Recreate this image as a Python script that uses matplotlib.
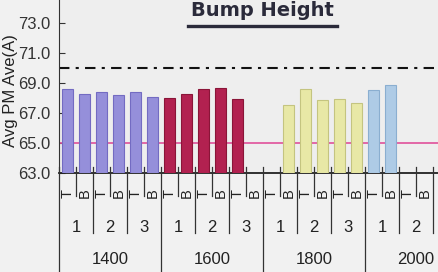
import matplotlib
matplotlib.use("Agg")
import matplotlib.pyplot as plt
from matplotlib.lines import Line2D
import numpy as np

groups = ['1400', '1600', '1800', '2000']
subgroups = ['1', '2', '3']
sides = ['T', 'B']
vals_1400 = [68.6, 68.27, 68.4, 68.18, 68.38, 68.1]
vals_1600 = [67.98, 68.27, 68.58, 68.67, 67.93, None]
vals_1800 = [None, 67.53, 68.58, 67.85, 67.93, 67.65]
vals_2000 = [68.56, 68.84, None, None, None, None]
group_values = [vals_1400, vals_1600, vals_1800, vals_2000]
group_colors = ['#958fda', '#b22150', '#e8e8a6', '#aecbe6']
edge_colors = ['#736bc2', '#8a1538', '#c4c480', '#8aaed0']
upper_limit = 70.0
lower_limit = 65.0
yticks = [63.0, 65.0, 67.0, 69.0, 71.0, 73.0]

W, H = 438, 272
fig = plt.figure(figsize=(W / 100, H / 100), dpi=100, facecolor='#f1f1f1')
ax_left, ax_bottom_px = 59, 173
ax_w_px = W - ax_left
ax = fig.add_axes([ax_left / W, (H - ax_bottom_px) / H, ax_w_px / W, ax_bottom_px / H])
ax.set_facecolor('#eeeeee')

n_slots = len(groups) * len(subgroups) * len(sides)
slot_px = 17.0
xmax = ax_w_px / slot_px
ax.set_xlim(0, xmax)
ax.set_ylim(63.0, 63.0 + ax_bottom_px / 15.0)

font = 'Liberation Sans'
for gi, vals in enumerate(group_values):
    for k, v in enumerate(vals):
        if v is None:
            continue
        x = gi * 6 + k + 0.5
        ax.bar(x, v - 63.0, bottom=63.0, width=0.6, color=group_colors[gi],
               edgecolor=edge_colors[gi], linewidth=0.8, zorder=3)

ax.axhline(upper_limit, color='#111111', lw=1.5, ls=(0, (5, 3, 1.5, 3)), zorder=2)
ax.axhline(lower_limit, color='#e0509a', lw=1.2, zorder=2)

for s in ['top', 'right']:
    ax.spines[s].set_visible(False)
ax.spines['left'].set_color('#333333')
ax.spines['bottom'].set_color('#222222')
ax.spines['bottom'].set_linewidth(1.3)
ax.set_yticks(yticks)
ax.set_yticklabels([f'{t:.1f}' for t in yticks], fontsize=12, fontfamily=font, color='#333333')
ax.tick_params(axis='y', direction='in', length=4, color='#333333', pad=6)
ax.set_xticks([])
ax.set_ylabel('Avg PM Ave(A)', fontsize=12, fontfamily=font, color='#222222')
ax.yaxis.set_label_coords(-(ax_left - 18) / ax_w_px, (ax_bottom_px - 91) / ax_bottom_px)

trans = ax.get_xaxis_transform()
def py(ypix):
    return (ax_bottom_px - ypix) / ax_bottom_px

# separators
for b in range(n_slots + 1):
    if b > xmax:
        continue
    if b % 6 == 0:
        y_end = 272
    elif b % 2 == 0:
        y_end = 233
    else:
        y_end = 196
    ax.add_line(Line2D([b, b], [py(167), py(y_end)], transform=trans, color='#333333',
                       lw=0.9, clip_on=False, zorder=4))

# labels (only those within the visible range)
for gi, g in enumerate(groups):
    ax.text(gi * 6 + 3, py(259), g, transform=trans, ha='center', va='center',
            fontsize=12, fontfamily=font, color='#222222', clip_on=False)
    for si, s in enumerate(subgroups):
        xs = gi * 6 + si * 2 + 1
        if xs + 0.5 > xmax:
            continue
        ax.text(xs, py(227), s, transform=trans, ha='center', va='center',
                fontsize=12, fontfamily=font, color='#222222', clip_on=False)
        for ti, t in enumerate(sides):
            ax.text(gi * 6 + si * 2 + ti + 0.5, py(193), t, transform=trans, ha='center',
                    va='center', rotation=90, fontsize=10.5, fontfamily=font,
                    color='#222222', clip_on=False)

# title
fig.text(262 / W, 1 - 11 / H, 'Bump Height', ha='center', va='center', fontsize=14,
         fontweight='bold', fontfamily='DejaVu Sans', color='#2a2a3a')
fig.add_artist(Line2D([188 / W, 337 / W], [1 - 26 / H, 1 - 26 / H], color='#2a2a3a', lw=2.4))

fig.savefig('out.png', dpi=100, facecolor=fig.get_facecolor())
